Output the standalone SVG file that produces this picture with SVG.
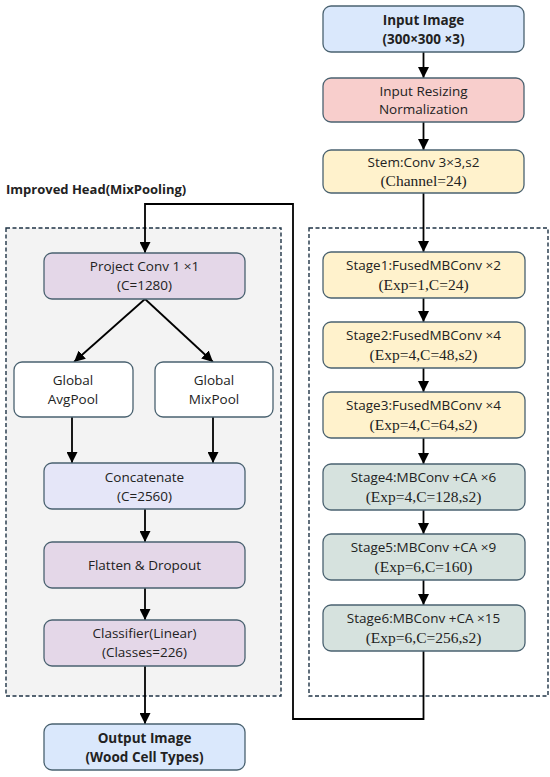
<svg xmlns="http://www.w3.org/2000/svg" width="550" height="777" viewBox="0 0 550 777">
<defs>
<marker id="ah" viewBox="0 0 10 10" refX="10" refY="5" markerWidth="11" markerHeight="11" markerUnits="userSpaceOnUse" orient="auto">
<path d="M0,0 L10,5 L0,10 z" fill="#000"/>
</marker>
<style>
.n{stroke:#4a6270;stroke-width:1.3}
.t{font-family:"Open Sans","Noto Sans",sans-serif;font-size:13.5px;fill:#222;text-anchor:middle}
.s{font-family:"Liberation Serif","DejaVu Serif",serif;font-size:15.5px;fill:#222;text-anchor:middle}
.b{font-weight:bold}
.c{fill:none;stroke:#000;stroke-width:1.8}
.d{stroke:#1f3345;stroke-width:1.4;stroke-dasharray:4 2.5}
</style>
</defs>
<rect width="550" height="777" fill="#fff"/>
<g id="head-box">
<rect x="6" y="228" width="275" height="468" fill="#f3f3f3" class="d"/>
<text x="6" y="194" class="t b" style="text-anchor:start;font-size:13px">Improved Head(MixPooling)</text>
</g>
<g id="backbone-box">
<rect x="309" y="228" width="239" height="468" fill="#fff" class="d"/>
</g>
<g id="connectors">
<line x1="423.5" y1="52" x2="423.5" y2="78" class="c" marker-end="url(#ah)"/>
<line x1="423.5" y1="122" x2="423.5" y2="150" class="c" marker-end="url(#ah)"/>
<line x1="423.5" y1="193" x2="423.5" y2="252" class="c" marker-end="url(#ah)"/>
<line x1="423.5" y1="298" x2="423.5" y2="322" class="c" marker-end="url(#ah)"/>
<line x1="423.5" y1="368" x2="423.5" y2="392" class="c" marker-end="url(#ah)"/>
<line x1="423.5" y1="438" x2="423.5" y2="464" class="c" marker-end="url(#ah)"/>
<line x1="423.5" y1="510" x2="423.5" y2="534" class="c" marker-end="url(#ah)"/>
<line x1="423.5" y1="580" x2="423.5" y2="605" class="c" marker-end="url(#ah)"/>
<polyline points="423.5,651 423.5,719 293,719 293,204 145,204 145,253" class="c" marker-end="url(#ah)"/>
<line x1="145" y1="299" x2="74" y2="362" class="c" marker-end="url(#ah)"/>
<line x1="145" y1="299" x2="213" y2="362" class="c" marker-end="url(#ah)"/>
<line x1="72" y1="417" x2="72" y2="463" class="c" marker-end="url(#ah)"/>
<line x1="213" y1="417" x2="213" y2="463" class="c" marker-end="url(#ah)"/>
<line x1="145" y1="509" x2="145" y2="542" class="c" marker-end="url(#ah)"/>
<line x1="145" y1="588" x2="145" y2="620" class="c" marker-end="url(#ah)"/>
<line x1="145" y1="666" x2="145" y2="724" class="c" marker-end="url(#ah)"/>
</g>
<g id="input-image">
<rect x="323" y="6" width="201" height="46" rx="8" fill="#dae8fc" class="n"/>
<text x="423.5" y="25" class="t b">Input Image</text>
<text x="423.5" y="44" class="t b">(300×300 ×3)</text>
</g>
<g id="input-resizing">
<rect x="323" y="78" width="201" height="44" rx="8" fill="#f8cecc" class="n"/>
<text x="423.5" y="96" class="t">Input Resizing</text>
<text x="423.5" y="114" class="t">Normalization</text>
</g>
<g id="stem">
<rect x="323" y="150" width="201" height="43" rx="8" fill="#fff2cc" class="n"/>
<text x="423.5" y="167" class="t">Stem:Conv 3×3,s2</text>
<text x="423.5" y="186" class="s">(Channel=24)</text>
</g>
<g id="stage1">
<rect x="323" y="252" width="202" height="46" rx="8" fill="#fff2cc" class="n"/>
<text x="423.5" y="270" class="t">Stage1:FusedMBConv ×2</text>
<text x="423.5" y="290" class="s">(Exp=1,C=24)</text>
</g>
<g id="stage2">
<rect x="323" y="322" width="202" height="46" rx="8" fill="#fff2cc" class="n"/>
<text x="423.5" y="340" class="t">Stage2:FusedMBConv ×4</text>
<text x="423.5" y="360" class="s">(Exp=4,C=48,s2)</text>
</g>
<g id="stage3">
<rect x="323" y="392" width="202" height="46" rx="8" fill="#fff2cc" class="n"/>
<text x="423.5" y="410" class="t">Stage3:FusedMBConv ×4</text>
<text x="423.5" y="430" class="s">(Exp=4,C=64,s2)</text>
</g>
<g id="stage4">
<rect x="323" y="464" width="202" height="46" rx="8" fill="#d6e2de" class="n"/>
<text x="423.5" y="482" class="t">Stage4:MBConv +CA ×6</text>
<text x="423.5" y="502" class="s">(Exp=4,C=128,s2)</text>
</g>
<g id="stage5">
<rect x="323" y="534" width="202" height="46" rx="8" fill="#d6e2de" class="n"/>
<text x="423.5" y="552" class="t">Stage5:MBConv +CA ×9</text>
<text x="423.5" y="572" class="s">(Exp=6,C=160)</text>
</g>
<g id="stage6">
<rect x="323" y="605" width="202" height="46" rx="8" fill="#d6e2de" class="n"/>
<text x="423.5" y="623" class="t">Stage6:MBConv +CA ×15</text>
<text x="423.5" y="643" class="s">(Exp=6,C=256,s2)</text>
</g>
<g id="project-conv">
<rect x="44" y="253" width="201" height="46" rx="8" fill="#e4d7e8" class="n"/>
<text x="144.5" y="271" class="t">Project Conv 1 ×1</text>
<text x="144.5" y="290" class="t">(C=1280)</text>
</g>
<g id="global-avgpool">
<rect x="14" y="362" width="119" height="55" rx="8" fill="#fff" class="n"/>
<text x="73" y="385" class="t">Global</text>
<text x="73" y="404" class="t">AvgPool</text>
</g>
<g id="global-mixpool">
<rect x="155" y="362" width="118" height="55" rx="8" fill="#fff" class="n"/>
<text x="214" y="385" class="t">Global</text>
<text x="214" y="404" class="t">MixPool</text>
</g>
<g id="concatenate">
<rect x="44" y="463" width="201" height="46" rx="8" fill="#e5e6f8" class="n"/>
<text x="144.5" y="482" class="t">Concatenate</text>
<text x="144.5" y="501" class="t">(C=2560)</text>
</g>
<g id="flatten-dropout">
<rect x="44" y="542" width="201" height="46" rx="8" fill="#e4d7e8" class="n"/>
<text x="144.5" y="570" class="t">Flatten &amp; Dropout</text>
</g>
<g id="classifier">
<rect x="44" y="620" width="201" height="46" rx="8" fill="#e4d7e8" class="n"/>
<text x="144.5" y="638" class="t">Classifier(Linear)</text>
<text x="144.5" y="657" class="t">(Classes=226)</text>
</g>
<g id="output-image">
<rect x="44" y="724" width="201" height="46" rx="8" fill="#dae8fc" class="n"/>
<text x="144.5" y="743" class="t b">Output Image</text>
<text x="144.5" y="762" class="t b">(Wood Cell Types)</text>
</g>
</svg>
